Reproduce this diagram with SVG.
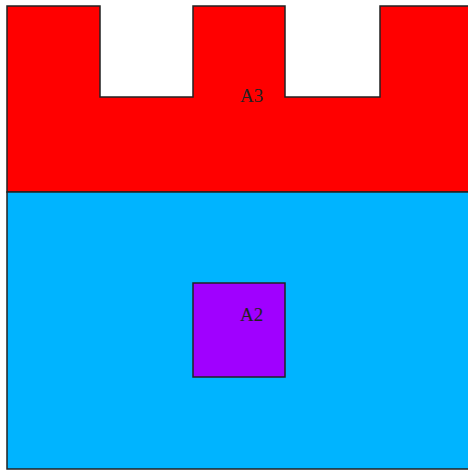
<svg xmlns="http://www.w3.org/2000/svg" width="468" height="471" viewBox="0 0 468 471">
<style>
.shape{stroke:#222;stroke-width:1.5}
.lbl{font-family:"Liberation Serif",serif;font-size:19px;fill:#222}
</style>
<rect width="468" height="471" fill="#fff"/>
<g id="A3">
<path class="shape" fill="#ff0000" d="M7,192 L7,6 L100,6 L100,97 L193,97 L193,6 L285,6 L285,97 L380,97 L380,6 L470,6 L470,192 Z"/>
<text class="lbl" x="240" y="102">A3</text>
</g>
<g id="A1">
<rect class="shape" fill="#00b4ff" x="7" y="192" width="465" height="277"/>
<text class="lbl" x="240" y="321">A1</text>
</g>
<g id="A2">
<rect class="shape" fill="#a000ff" stroke="#202050" x="193" y="283" width="92" height="94"/>
<text class="lbl" x="240" y="321">A2</text>
</g>
<g id="connectors"/>
</svg>
